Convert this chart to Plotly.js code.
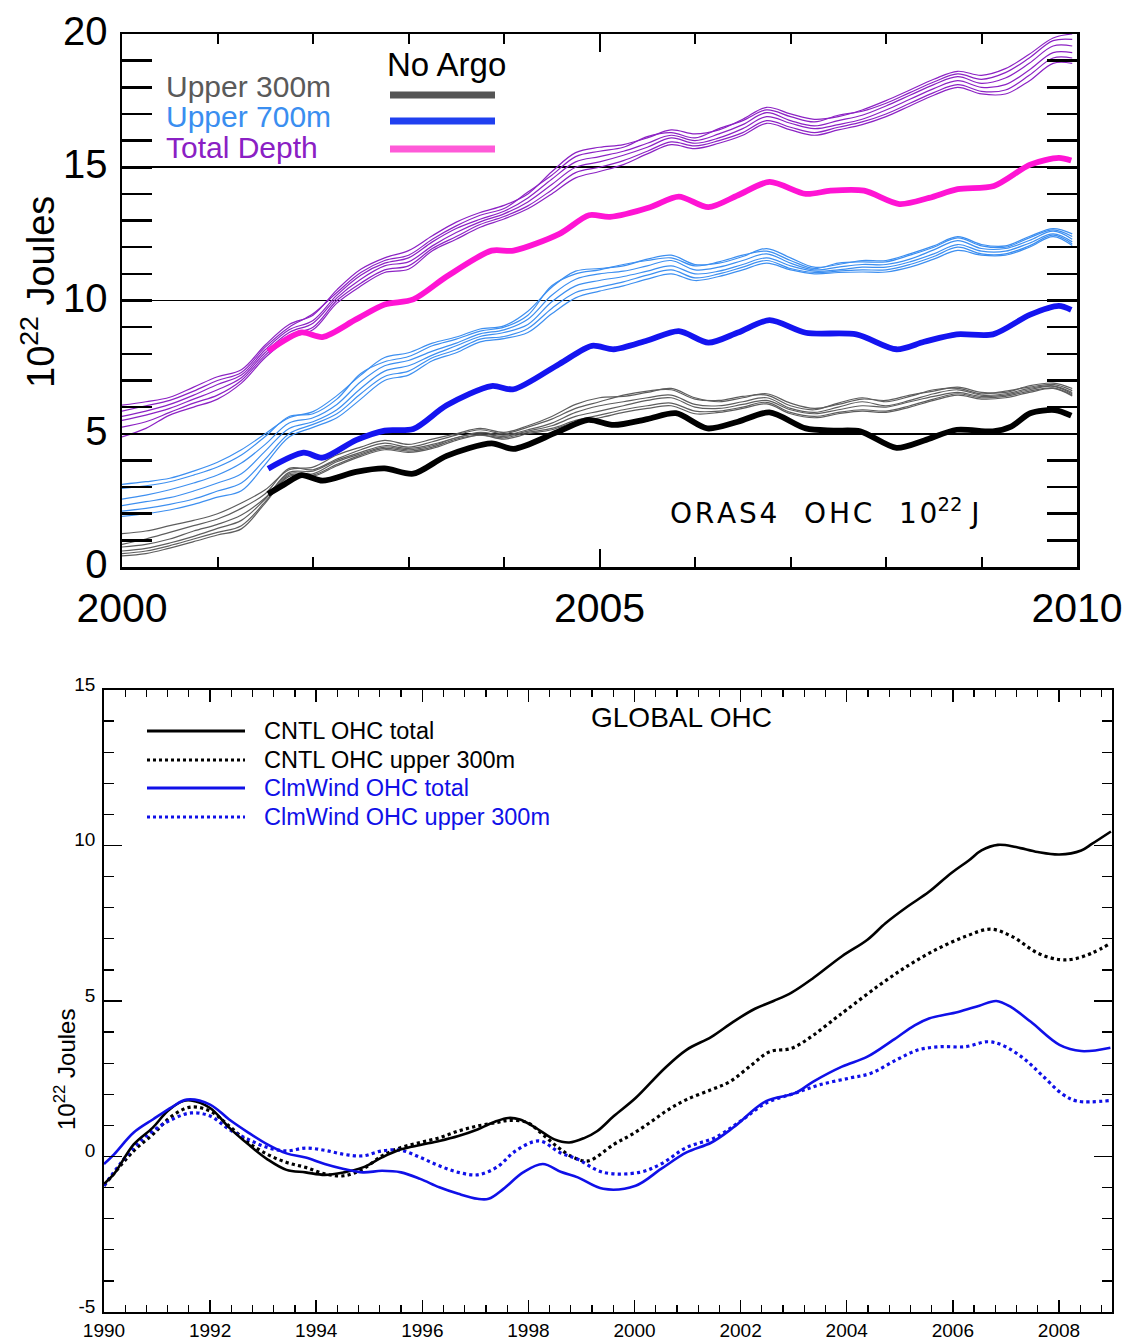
<!DOCTYPE html>
<html><head><meta charset="utf-8">
<script src="https://cdn.plot.ly/plotly-3.0.1.min.js"></script>
<style>html,body{margin:0;padding:0;background:#fff}</style>
</head><body>
<div id="chart" style="width:1129px;height:1341px"></div>
<script>
// ---------- TOP PANEL DATA (ORAS4 OHC, 10^22 J) ----------
const topYears = [2000,2000.25,2000.5,2000.75,2001,2001.25,2001.5,2001.75,2002,2002.25,
  2002.5,2002.75,2003,2003.25,2003.5,2003.75,2004,2004.25,2004.5,2004.75,
  2005,2005.25,2005.5,2005.75,2006,2006.25,2006.5,2006.75,2007,2007.25,
  2007.5,2007.75,2008,2008.25,2008.5,2008.75,2009,2009.25,2009.5,2009.75,2009.95];

// Upper 300m ensemble (grey)
const up300_m1 = [1.25,1.35,1.55,1.75,2.00,2.40,2.90,3.65,3.75,4.20,4.50,4.75,4.60,4.80,5.00,5.20,5.05,5.30,5.65,6.10,6.35,6.40,6.55,6.70,6.35,6.20,6.35,6.50,6.15,5.95,6.10,6.30,6.25,6.45,6.60,6.75,6.55,6.55,6.80,6.90,6.70];
const up300_m2 = [0.85,1.05,1.30,1.55,1.80,2.20,2.75,3.70,3.65,4.05,4.40,4.65,4.50,4.70,4.95,5.15,5.00,5.25,5.55,5.95,6.20,6.45,6.60,6.65,6.30,6.25,6.40,6.45,6.05,5.90,6.15,6.35,6.20,6.40,6.65,6.70,6.50,6.60,6.75,6.85,6.62];
const up300_m3 = [0.75,0.85,1.05,1.35,1.60,1.95,2.60,3.55,3.60,4.00,4.30,4.55,4.45,4.60,4.85,5.05,4.95,5.15,5.40,5.80,6.05,6.20,6.35,6.45,6.10,6.05,6.20,6.35,5.95,5.80,6.00,6.20,6.05,6.25,6.50,6.65,6.45,6.50,6.70,6.80,6.55];
const up300_m4 = [0.60,0.70,0.90,1.15,1.45,1.75,2.55,3.50,3.50,3.95,4.25,4.50,4.40,4.55,4.85,5.00,4.90,5.10,5.30,5.65,5.85,6.05,6.25,6.35,6.00,5.95,6.10,6.25,5.90,5.75,5.90,6.05,6.00,6.20,6.40,6.55,6.40,6.45,6.65,6.78,6.50];
const up300_m5 = [0.50,0.60,0.80,1.05,1.30,1.55,2.45,3.45,3.45,3.85,4.20,4.45,4.35,4.50,4.80,4.95,4.85,5.05,5.20,5.50,5.70,5.90,6.05,6.15,5.85,5.85,6.00,6.18,5.80,5.65,5.80,5.90,5.85,6.05,6.30,6.50,6.35,6.40,6.60,6.72,6.45];
const up300_m6 = [0.42,0.50,0.71,0.95,1.20,1.43,2.40,3.40,3.40,3.80,4.15,4.40,4.30,4.45,4.75,4.95,4.80,5.00,5.15,5.45,5.60,5.80,5.95,6.05,5.75,5.80,5.95,6.12,5.75,5.60,5.75,5.85,5.80,6.00,6.25,6.45,6.30,6.35,6.55,6.70,6.42];

// Upper 700m ensemble (light blue)
const up700_m1 = [3.10,3.20,3.33,3.60,3.93,4.40,5.00,5.60,5.83,6.43,7.20,7.86,8.04,8.40,8.63,8.93,9.05,9.60,10.50,11.10,11.20,11.30,11.55,11.70,11.35,11.40,11.65,11.95,11.60,11.25,11.35,11.50,11.50,11.75,12.05,12.40,12.10,12.05,12.40,12.70,12.50];
const up700_m2 = [2.95,3.05,3.20,3.45,3.75,4.20,4.90,5.65,5.75,6.30,7.26,7.70,7.90,8.30,8.55,8.85,9.00,9.45,10.55,11.00,11.15,11.35,11.50,11.60,11.30,11.45,11.70,11.85,11.50,11.20,11.40,11.45,11.45,11.70,12.00,12.35,12.05,12.00,12.35,12.65,12.40];
const up700_m3 = [2.55,2.70,2.90,3.15,3.45,3.90,4.60,5.40,5.60,6.10,6.95,7.55,7.75,8.10,8.40,8.75,8.90,9.30,10.20,10.80,11.00,11.10,11.30,11.50,11.15,11.25,11.50,11.75,11.40,11.15,11.25,11.35,11.35,11.55,11.90,12.25,11.95,11.95,12.25,12.60,12.30];
const up700_m4 = [2.30,2.45,2.60,2.85,3.15,3.50,4.35,5.20,5.45,5.90,6.70,7.35,7.55,7.95,8.30,8.65,8.80,9.10,9.95,10.55,10.75,10.90,11.10,11.30,11.00,11.10,11.35,11.60,11.30,11.10,11.15,11.25,11.25,11.45,11.75,12.10,11.85,11.85,12.15,12.50,12.20];
const up700_m5 = [2.10,2.20,2.35,2.55,2.85,3.15,4.05,5.00,5.35,5.75,6.50,7.15,7.35,7.85,8.15,8.55,8.65,8.95,9.70,10.30,10.50,10.70,10.95,11.15,10.85,11.00,11.25,11.50,11.20,11.05,11.10,11.15,11.15,11.35,11.65,12.00,11.75,11.75,12.05,12.45,12.12];
const up700_m6 = [1.90,2.00,2.14,2.35,2.62,2.86,3.85,4.88,5.24,5.60,6.30,7.00,7.20,7.74,8.04,8.45,8.57,8.80,9.50,10.10,10.35,10.55,10.80,11.00,10.75,10.90,11.15,11.40,11.15,11.00,11.05,11.07,11.07,11.25,11.55,11.88,11.70,11.70,12.00,12.40,12.06];

// Total depth ensemble (purple)
const total_m1 = [6.07,6.20,6.37,6.75,7.14,7.40,8.33,9.10,9.45,10.40,11.17,11.60,11.87,12.43,12.94,13.30,13.57,14.00,14.83,15.55,15.75,15.85,16.10,16.40,16.25,16.40,16.80,17.25,17.00,16.80,16.90,17.15,17.50,17.90,18.30,18.60,18.45,18.70,19.24,19.85,20.00];
const total_m2 = [5.85,6.05,6.25,6.60,7.00,7.30,8.25,9.00,9.50,10.30,11.05,11.50,11.70,12.30,12.80,13.20,13.45,14.07,14.70,15.40,15.60,15.75,16.15,16.30,16.10,16.45,16.75,17.15,16.90,16.70,16.95,17.10,17.40,17.80,18.20,18.50,18.30,18.55,19.10,19.75,19.80];
const total_m3 = [5.65,5.85,6.10,6.45,6.85,7.20,8.15,8.90,9.25,10.20,10.95,11.40,11.60,12.20,12.70,13.05,13.35,13.85,14.55,15.20,15.40,15.60,15.90,16.20,16.00,16.25,16.60,17.05,16.75,16.55,16.75,16.95,17.30,17.70,18.10,18.40,18.15,18.35,18.90,19.55,19.55];
const total_m4 = [5.50,5.70,5.95,6.30,6.65,7.10,8.05,8.80,9.15,10.10,10.80,11.30,11.45,12.05,12.55,12.95,13.25,13.70,14.35,15.00,15.20,15.45,15.75,16.10,15.90,16.10,16.45,16.90,16.65,16.45,16.60,16.80,17.15,17.55,17.95,18.25,18.00,18.10,18.65,19.30,19.30];
const total_m5 = [5.25,5.45,5.80,6.15,6.45,7.00,7.95,8.70,9.00,10.00,10.65,11.15,11.30,11.95,12.40,12.85,13.15,13.55,14.15,14.80,15.00,15.25,15.60,15.95,15.80,16.00,16.30,16.75,16.50,16.30,16.50,16.70,17.00,17.40,17.80,18.10,17.85,17.90,18.45,19.10,19.10];
const total_m6 = [4.88,5.20,5.70,6.00,6.30,6.90,7.86,8.57,8.90,9.90,10.54,11.05,11.17,11.87,12.30,12.75,13.06,13.44,14.00,14.60,14.84,15.10,15.50,15.85,15.70,15.90,16.20,16.65,16.40,16.20,16.40,16.60,16.90,17.30,17.70,18.00,17.75,17.75,18.24,18.90,18.90];

// No Argo runs (thick)
const noArgo300_x = [2001.53,2001.7,2001.88,2002.1,2002.45,2002.75,2003.05,2003.4,2003.87,2004.1,2004.55,2004.88,2005.15,2005.5,2005.8,2006.13,2006.45,2006.78,2007.16,2007.45,2007.73,2008.11,2008.4,2008.74,2009.12,2009.31,2009.51,2009.77,2009.94];
const noArgo300_y = [2.74,3.1,3.45,3.24,3.57,3.7,3.5,4.17,4.64,4.43,5.05,5.52,5.33,5.55,5.77,5.2,5.45,5.8,5.2,5.12,5.09,4.47,4.75,5.15,5.09,5.27,5.77,5.89,5.68];
const noArgo700_x = [2001.53,2001.9,2002.1,2002.45,2002.75,2003.05,2003.4,2003.87,2004.1,2004.58,2004.92,2005.15,2005.5,2005.83,2006.14,2006.45,2006.78,2007.16,2007.69,2008.11,2008.4,2008.74,2009.12,2009.51,2009.81,2009.94];
const noArgo700_y = [3.69,4.29,4.1,4.76,5.12,5.18,6.07,6.79,6.67,7.62,8.3,8.17,8.5,8.85,8.42,8.8,9.26,8.79,8.73,8.17,8.45,8.73,8.73,9.47,9.8,9.65];
const noArgoTot_x = [2001.53,2001.88,2002.1,2002.45,2002.75,2003.05,2003.4,2003.87,2004.1,2004.58,2004.89,2005.11,2005.53,2005.83,2006.14,2006.45,2006.78,2007.16,2007.42,2007.77,2008.14,2008.45,2008.75,2009.13,2009.51,2009.81,2009.94];
const noArgoTot_y = [8.1,8.8,8.63,9.29,9.85,10.04,10.9,11.87,11.87,12.5,13.2,13.14,13.5,13.9,13.5,13.95,14.45,14.0,14.12,14.12,13.62,13.85,14.18,14.3,15.1,15.35,15.25];

const topYTicks = [0,5,10,15,20];
const topXTicks = [2000,2005,2010];

// ---------- BOTTOM PANEL DATA (GLOBAL OHC, 10^22 J) ----------
const cntlTotal_x = [1990.0,1990.19,1990.56,1990.92,1991.2,1991.49,1991.64,1992.0,1992.36,1992.72,1993.08,1993.44,1993.8,1994.16,1994.52,1994.88,1995.24,1995.6,1995.96,1996.32,1996.68,1997.04,1997.4,1997.62,1997.84,1998.13,1998.49,1998.77,1999.06,1999.3,1999.61,2000.02,2000.57,2000.98,2001.45,2001.86,2002.27,2002.62,2002.96,2003.37,2003.91,2004.39,2004.73,2005.14,2005.55,2005.96,2006.3,2006.54,2006.85,2007.19,2007.6,2008.01,2008.42,2008.62,2008.98];
const cntlTotal_y = [-0.88,-0.56,0.39,0.93,1.46,1.78,1.8,1.56,0.93,0.39,-0.09,-0.43,-0.51,-0.59,-0.51,-0.35,-0.03,0.23,0.37,0.5,0.66,0.87,1.14,1.24,1.19,0.93,0.55,0.45,0.6,0.82,1.3,1.88,2.84,3.43,3.85,4.33,4.75,5.0,5.27,5.74,6.44,6.97,7.5,8.03,8.51,9.1,9.52,9.84,10.02,9.95,9.79,9.71,9.84,10.05,10.45];
const cntl300_x = [1990.0,1990.56,1990.92,1991.28,1991.64,1992.0,1992.36,1992.72,1993.08,1993.44,1993.8,1994.16,1994.52,1994.88,1995.24,1995.6,1995.96,1996.32,1996.68,1997.04,1997.4,1997.62,1997.98,1998.27,1998.56,1998.85,1999.13,1999.61,1999.95,2000.29,2000.64,2000.98,2001.45,2001.8,2002.21,2002.55,2002.96,2003.37,2003.78,2004.0,2004.59,2005.14,2005.68,2006.23,2006.71,2007.12,2007.6,2008.01,2008.28,2008.62,2008.98];
const cntl300_y = [-0.94,0.18,0.71,1.3,1.59,1.46,0.98,0.45,0.07,-0.19,-0.35,-0.56,-0.62,-0.4,0.02,0.29,0.45,0.6,0.82,0.98,1.09,1.16,1.09,0.71,0.29,-0.03,-0.14,0.39,0.71,1.09,1.51,1.83,2.15,2.41,2.95,3.37,3.48,3.9,4.44,4.72,5.48,6.12,6.65,7.07,7.31,7.07,6.54,6.33,6.35,6.54,6.86];
const clmTotal_x = [1990.0,1990.19,1990.56,1990.92,1991.28,1991.56,1992.0,1992.36,1992.72,1993.08,1993.44,1993.8,1994.16,1994.52,1994.88,1995.24,1995.6,1995.96,1996.32,1996.68,1997.04,1997.25,1997.53,1997.9,1998.27,1998.62,1998.93,1999.41,2000.02,2000.5,2000.98,2001.45,2001.86,2002.48,2003.03,2003.37,2003.91,2004.39,2004.87,2005.28,2005.55,2006.1,2006.5,2006.82,2007.1,2007.47,2008.01,2008.42,2008.97];
const clmTotal_y = [-0.24,0.07,0.77,1.19,1.59,1.83,1.67,1.19,0.77,0.39,0.1,-0.03,-0.24,-0.4,-0.51,-0.46,-0.51,-0.72,-0.99,-1.2,-1.36,-1.36,-1.04,-0.51,-0.24,-0.5,-0.67,-1.04,-0.94,-0.4,0.13,0.45,0.93,1.78,2.04,2.41,2.89,3.21,3.74,4.22,4.44,4.65,4.85,5.0,4.8,4.33,3.59,3.39,3.5];
const clm300_x = [1990.0,1990.56,1990.92,1991.28,1991.64,1992.0,1992.36,1992.72,1993.08,1993.44,1993.8,1994.16,1994.52,1994.88,1995.24,1995.6,1995.96,1996.32,1996.68,1997.04,1997.4,1997.76,1998.2,1998.59,1998.93,1999.41,2000.09,2000.5,2000.98,2001.52,2002.0,2002.48,2003.03,2003.5,2004.05,2004.46,2004.94,2005.35,2005.76,2006.24,2006.65,2006.92,2007.33,2007.67,2008.08,2008.35,2008.97];
const clm300_y = [-0.94,0.29,0.82,1.19,1.4,1.3,0.87,0.55,0.29,0.18,0.27,0.2,0.07,0.02,0.18,0.2,-0.03,-0.3,-0.51,-0.59,-0.35,0.18,0.5,0.13,-0.09,-0.51,-0.51,-0.24,0.29,0.61,1.14,1.72,2.04,2.31,2.52,2.68,3.11,3.43,3.53,3.53,3.69,3.59,3.16,2.63,1.99,1.78,1.8];

const botYTicks = [-5,0,5,10,15];
const botXTicks = [1990,1992,1994,1996,1998,2000,2002,2004,2006,2008];

// ---------- helpers for layout positions ----------
const W = 1129, H = 1341;
const px = v => v / W;
const py = v => 1 - v / H;
const FONT = 'Liberation Sans, Arial, sans-serif';
const spread = s => s.split('').join('\u200A');

function thin(x, y, color) {
  return {x: x, y: y, xaxis: 'x', yaxis: 'y', mode: 'lines', type: 'scatter',
    line: {color: color, width: 1.2, shape: 'spline', smoothing: 1}, hoverinfo: 'skip'};
}
function thick(x, y, color) {
  return {x: x, y: y, xaxis: 'x', yaxis: 'y', mode: 'lines', type: 'scatter',
    line: {color: color, width: 5.8, shape: 'spline', smoothing: 0.8}, hoverinfo: 'skip'};
}
function bot(x, y, color, dash) {
  return {x: x, y: y, xaxis: 'x2', yaxis: 'y2', mode: 'lines', type: 'scatter',
    line: {color: color, width: dash ? 3.2 : 2.6, dash: dash || 'solid', shape: 'spline', smoothing: 1}, hoverinfo: 'skip'};
}

const GREY = '#5e5e5e', LBLUE = '#3d8ff0', PURPLE = '#8c22c4';
const traces = [];
[up300_m1, up300_m2, up300_m3, up300_m4, up300_m5, up300_m6].forEach(m => traces.push(thin(topYears, m, GREY)));
[up700_m1, up700_m2, up700_m3, up700_m4, up700_m5, up700_m6].forEach(m => traces.push(thin(topYears, m, LBLUE)));
[total_m1, total_m2, total_m3, total_m4, total_m5, total_m6].forEach(m => traces.push(thin(topYears, m, PURPLE)));
traces.push(thick(noArgo300_x, noArgo300_y, '#000000'));
traces.push(thick(noArgo700_x, noArgo700_y, '#1414f0'));
traces.push(thick(noArgoTot_x, noArgoTot_y, '#ff14d4'));

traces.push(bot(cntl300_x, cntl300_y, '#000000', 'dot'));
traces.push(bot(clm300_x, clm300_y, '#1010e8', 'dot'));
traces.push(bot(cntlTotal_x, cntlTotal_y, '#000000'));
traces.push(bot(clmTotal_x, clmTotal_y, '#1010e8'));

const layout = {
  width: W, height: H,
  margin: {l: 0, r: 0, t: 0, b: 0},
  paper_bgcolor: '#ffffff', plot_bgcolor: '#ffffff',
  showlegend: false,
  font: {family: FONT, color: '#000'},
  xaxis: {
    domain: [px(122), px(1077)], anchor: 'y', range: [2000, 2010],
    tickmode: 'array', tickvals: topXTicks, ticktext: topXTicks.map(String),
    ticks: 'inside', ticklen: 18, tickwidth: 2, tickcolor: '#000',
    minor: {dtick: 1, tick0: 2000, ticks: 'inside', ticklen: 10, tickwidth: 2, tickcolor: '#000', showgrid: false},
    showline: true, linewidth: 2.5, linecolor: '#000', mirror: 'ticks',
    showgrid: false, zeroline: false, ticklabelstandoff: 3,
    tickfont: {size: 41, family: FONT}
  },
  yaxis: {
    domain: [py(567), py(34)], anchor: 'x', range: [0, 20],
    tickmode: 'array', tickvals: topYTicks, ticktext: topYTicks.map(String),
    ticks: 'inside', ticklen: 30, tickwidth: 2.5, tickcolor: '#000',
    minor: {dtick: 1, tick0: 0, ticks: 'inside', ticklen: 30, tickwidth: 2.5, tickcolor: '#000', showgrid: false},
    showline: true, linewidth: 2.5, linecolor: '#000', mirror: 'ticks',
    showgrid: true, gridcolor: '#000', gridwidth: 1.6, zeroline: false,
    ticklabelshift: -3, ticklabelstandoff: 4,
    tickfont: {size: 40, family: FONT}
  },
  xaxis2: {
    domain: [px(104), px(1112)], anchor: 'y2', range: [1990, 2009],
    tickmode: 'array', tickvals: botXTicks, ticktext: botXTicks.map(String),
    ticks: 'inside', ticklen: 12, tickwidth: 1.5, tickcolor: '#000',
    minor: {dtick: 0.4, tick0: 1990, ticks: 'inside', ticklen: 7, tickwidth: 1.2, tickcolor: '#000', showgrid: false},
    showline: true, linewidth: 1.8, linecolor: '#000', mirror: 'ticks',
    showgrid: false, zeroline: false, ticklabelstandoff: 0,
    tickfont: {size: 19, family: FONT}
  },
  yaxis2: {
    domain: [py(1312), py(690)], anchor: 'x2', range: [-5, 15],
    tickmode: 'array', tickvals: botYTicks, ticktext: botYTicks.map(String),
    ticks: 'inside', ticklen: 18, tickwidth: 1.5, tickcolor: '#000',
    minor: {dtick: 1, tick0: 0, ticks: 'inside', ticklen: 10, tickwidth: 1.2, tickcolor: '#000', showgrid: false},
    showline: true, linewidth: 1.8, linecolor: '#000', mirror: 'ticks',
    showgrid: false, zeroline: false, ticklabelshift: -6, ticklabelstandoff: 3,
    tickfont: {size: 19, family: FONT}
  },
  shapes: [
    // top panel "No Argo" legend swatches
    {type: 'line', xref: 'paper', yref: 'paper', x0: px(390), x1: px(495), y0: py(95), y1: py(95), line: {color: '#555555', width: 7}},
    {type: 'line', xref: 'paper', yref: 'paper', x0: px(390), x1: px(495), y0: py(121), y1: py(121), line: {color: '#2040f0', width: 7}},
    {type: 'line', xref: 'paper', yref: 'paper', x0: px(390), x1: px(495), y0: py(149), y1: py(149), line: {color: '#ff5ad8', width: 7}},
    // bottom panel legend swatches
    {type: 'line', xref: 'paper', yref: 'paper', x0: px(147), x1: px(245), y0: py(731), y1: py(731), line: {color: '#000', width: 3}},
    {type: 'line', xref: 'paper', yref: 'paper', x0: px(147), x1: px(245), y0: py(760), y1: py(760), line: {color: '#000', width: 3, dash: 'dot'}},
    {type: 'line', xref: 'paper', yref: 'paper', x0: px(147), x1: px(245), y0: py(788), y1: py(788), line: {color: '#1010e8', width: 3}},
    {type: 'line', xref: 'paper', yref: 'paper', x0: px(147), x1: px(245), y0: py(817), y1: py(817), line: {color: '#1010e8', width: 3, dash: 'dot'}}
  ],
  annotations: [
    {xref: 'paper', yref: 'paper', x: px(38), y: py(292), text: '10<sup>22</sup> Joules', textangle: -90, showarrow: false, xanchor: 'center', yanchor: 'middle', font: {size: 38, family: FONT, color: '#000'}},
    {xref: 'paper', yref: 'paper', x: px(164), y: py(86), text: 'Upper 300m', showarrow: false, xanchor: 'left', yanchor: 'middle', font: {size: 30, family: FONT, color: '#5a5a5a'}},
    {xref: 'paper', yref: 'paper', x: px(164), y: py(117), text: 'Upper 700m', showarrow: false, xanchor: 'left', yanchor: 'middle', font: {size: 30, family: FONT, color: '#3a8ef0'}},
    {xref: 'paper', yref: 'paper', x: px(164), y: py(148), text: 'Total Depth', showarrow: false, xanchor: 'left', yanchor: 'middle', font: {size: 30, family: FONT, color: '#8a20c4'}},
    {xref: 'paper', yref: 'paper', x: px(385), y: py(64), text: 'No Argo', showarrow: false, xanchor: 'left', yanchor: 'middle', font: {size: 33, family: FONT, color: '#000'}},
    {xref: 'paper', yref: 'paper', x: px(825), y: py(512), text: spread('ORAS4') + '&nbsp;&nbsp;&nbsp;' + spread('OHC') + '&nbsp;&nbsp;&nbsp;' + spread('10') + '<sup>22</sup>&nbsp;J', showarrow: false, xanchor: 'center', yanchor: 'middle', font: {size: 28, family: 'DejaVu Sans, sans-serif', color: '#000'}},
    {xref: 'paper', yref: 'paper', x: px(681), y: py(717), text: 'GLOBAL OHC', showarrow: false, xanchor: 'center', yanchor: 'middle', font: {size: 28, family: FONT, color: '#000'}},
    {xref: 'paper', yref: 'paper', x: px(262), y: py(731), text: 'CNTL OHC total', showarrow: false, xanchor: 'left', yanchor: 'middle', font: {size: 23.5, family: FONT, color: '#000'}},
    {xref: 'paper', yref: 'paper', x: px(262), y: py(760), text: 'CNTL OHC upper 300m', showarrow: false, xanchor: 'left', yanchor: 'middle', font: {size: 23.5, family: FONT, color: '#000'}},
    {xref: 'paper', yref: 'paper', x: px(262), y: py(788), text: 'ClmWind OHC total', showarrow: false, xanchor: 'left', yanchor: 'middle', font: {size: 23.5, family: FONT, color: '#1010e8'}},
    {xref: 'paper', yref: 'paper', x: px(262), y: py(817), text: 'ClmWind OHC upper 300m', showarrow: false, xanchor: 'left', yanchor: 'middle', font: {size: 23.5, family: FONT, color: '#1010e8'}},
    {xref: 'paper', yref: 'paper', x: px(65), y: py(1070), text: '10<sup>22</sup> Joules', textangle: -90, showarrow: false, xanchor: 'center', yanchor: 'middle', font: {size: 24, family: FONT, color: '#000'}}
  ]
};

Plotly.newPlot('chart', traces, layout, {staticPlot: true, displayModeBar: false});
</script>
</body></html>
